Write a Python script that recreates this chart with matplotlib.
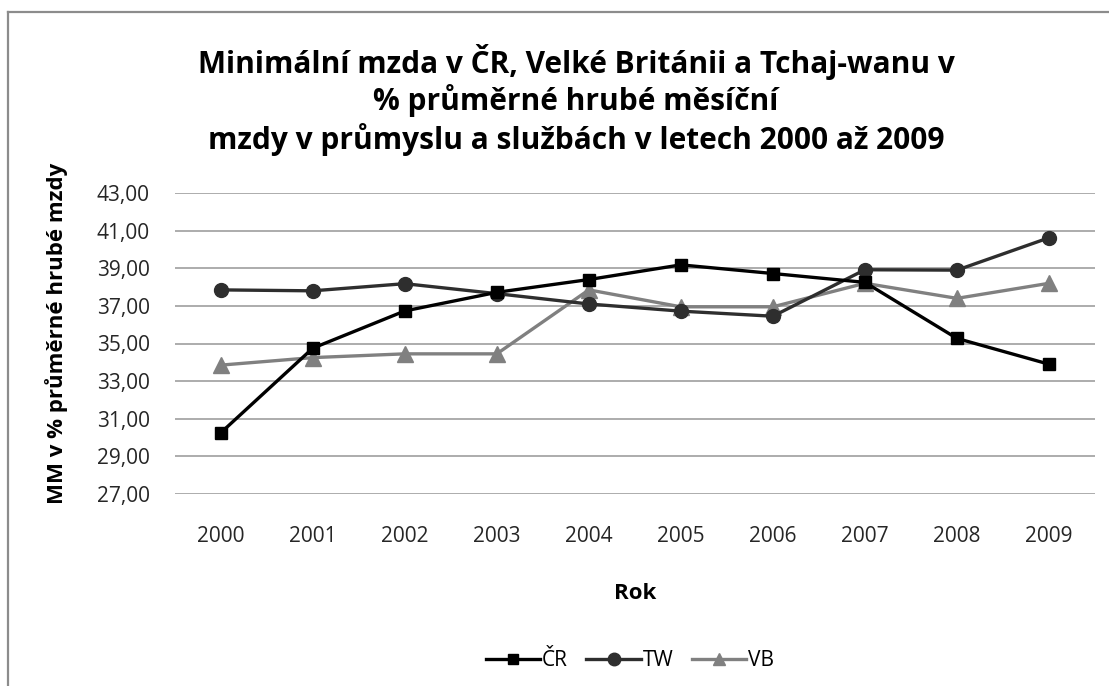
import matplotlib
matplotlib.use("Agg")
import matplotlib.pyplot as plt
from matplotlib.lines import Line2D

years = ["2000", "2001", "2002", "2003", "2004", "2005", "2006", "2007", "2008", "2009"]
cr = [30.25, 34.75, 36.73, 37.72, 38.40, 39.18, 38.72, 38.25, 35.27, 33.90]
tw = [37.85, 37.80, 38.18, 37.65, 37.10, 36.72, 36.45, 38.92, 38.90, 40.62]
vb = [33.85, 34.25, 34.45, 34.45, 37.85, 36.95, 36.95, 38.20, 37.40, 38.20]
yticks = [27, 29, 31, 33, 35, 37, 39, 41, 43]

plt.rcParams['font.family'] = ['Open Sans', 'DejaVu Sans']

fig = plt.figure(figsize=(11.09, 6.86), dpi=100)
ax = fig.add_axes([174.7 / 1109, 1 - 494 / 686, 920.3 / 1109, 301 / 686])

x = list(range(len(years)))
ax.plot(x, cr, color='#000000', lw=2.4, marker='s', ms=8.5, label='ČR', zorder=5)
ax.plot(x, tw, color='#2e2e2e', lw=2.4, marker='o', ms=10, label='TW', zorder=4)
ax.plot(x, vb, color='#808080', lw=2.4, marker='^', ms=11, label='VB', zorder=3)

ax.set_xlim(-0.5, len(years) - 0.5)
ax.set_ylim(27, 43)
ax.set_yticks(yticks)
ax.set_yticklabels([f"{v:.2f}".replace('.', ',') for v in yticks], fontsize=15, color='#262626')
ax.set_xticks(x)
ax.set_xticklabels(years, fontsize=15, color='#262626')
ax.tick_params(length=0)
ax.tick_params(axis='y', pad=18)
ax.tick_params(axis='x', pad=23)
ax.yaxis.grid(True, color='#a6a6a6', lw=1.3)
ax.set_axisbelow(True)
for s in ax.spines.values():
    s.set_visible(False)

ax.set_xlabel("Rok", fontsize=16, fontweight='bold', labelpad=26)
fig.text(57 / 1109, 1 - 333 / 686, "MM v % průměrné hrubé mzdy", rotation=90,
         fontsize=16, fontweight='bold', ha='center', va='center')

title = ["Minimální mzda v ČR, Velké Británii a Tchaj-wanu v",
         "% průměrné hrubé měsíční",
         "mzdy v průmyslu a službách v letech 2000 až 2009"]
for i, t in enumerate(title):
    fig.text(576 / 1109, 1 - (62 + 38.5 * i) / 686, t, fontsize=21.5, fontweight='bold',
             ha='center', va='center')

handles = [Line2D([], [], color='#000000', lw=2.4, marker='s', ms=7.5),
           Line2D([], [], color='#2e2e2e', lw=2.4, marker='o', ms=9),
           Line2D([], [], color='#808080', lw=2.4, marker='^', ms=9)]
fig.legend(handles, ['ČR', 'TW', 'VB'], loc='center', bbox_to_anchor=(630 / 1109, 1 - 661 / 686),
           ncol=3, frameon=False, fontsize=15, handlelength=2.6, handletextpad=0.1,
           columnspacing=0.9)

# outer chart border (left and top only visible)
fig.add_artist(Line2D([8 / 1109, 8 / 1109], [0, 1 - 12 / 686], transform=fig.transFigure,
                      color='#8c8c8c', lw=1.6))
fig.add_artist(Line2D([8 / 1109, 1], [1 - 12 / 686, 1 - 12 / 686], transform=fig.transFigure,
                      color='#8c8c8c', lw=1.6))

fig.savefig("out.png", dpi=100)
